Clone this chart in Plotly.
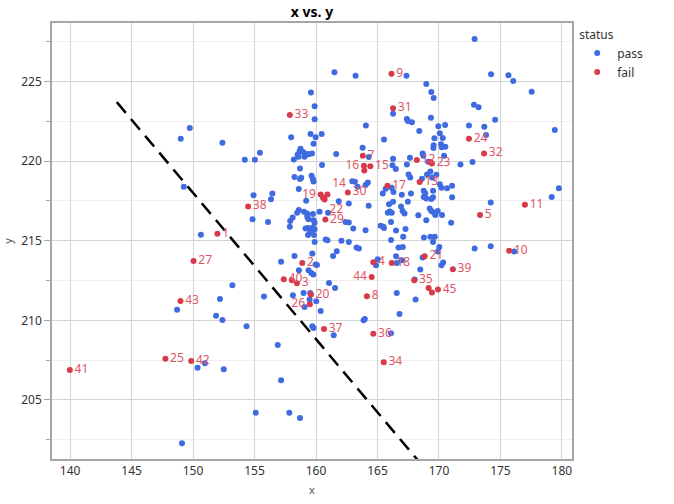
import plotly.graph_objects as go

# status = pass
pass_x = [149.0, 149.74, 152.39, 149.25, 154.21, 155.03, 155.44, 154.92, 156.45, 156.34,
          154.84, 156.1, 150.64, 157.98, 158.2, 158.5, 158.66, 158.7, 158.25, 158.7,
          158.6, 158.6, 158.47, 158.1, 157.9, 157.87, 167.36, 161.5, 163.22, 168.97,
          166.27, 167.39, 167.8, 168.4, 159.59, 159.89, 159.89, 159.56, 159.97, 159.8,
          160.46, 164.06, 165.53, 163.79, 161.64, 164.3, 166.27, 167.64, 167.39, 160.49,
          158.74, 158.96, 159.07, 159.4, 159.67, 169.38, 169.35, 169.55, 172.9, 174.24,
          175.65, 176.04, 177.54, 169.57, 172.85, 173.22, 174.57, 169.95, 170.5, 172.44,
          173.69, 173.83, 179.42, 170.07, 169.63, 170.31, 169.57, 170.17, 170.52, 170.42,
          171.75, 172.73, 168.67, 169.13, 167.47, 170.23, 168.73, 166.22, 166.49, 169.3,
          167.53, 167.66, 169.03, 169.79, 169.44, 168.62, 170.07, 170.2, 170.66, 171.07,
          169.52, 168.76, 168.89, 166.16, 165.67, 165.43, 166.3, 166.98, 167.72, 168.76,
          168.97, 169.38, 169.52, 171.07, 167.47, 166.27, 165.94, 166.92, 169.25, 169.38,
          169.57, 169.9, 169.7, 174.21, 166.0, 166.16, 167.04, 167.2, 168.32, 170.25,
          168.97, 166.1, 170.99, 165.48, 166.51, 167.28, 167.09, 166.1, 168.78, 169.3,
          169.66, 169.52, 166.71, 167.06, 172.9, 174.21, 170.03, 166.51, 166.98, 166.57,
          168.67, 169.9, 170.2, 170.34, 168.48, 168.02, 176.12, 166.57, 168.1, 166.79,
          166.1, 159.29, 158.58, 158.8, 159.64, 159.75, 159.8, 159.2, 159.02, 159.27,
          159.29, 159.39, 159.75, 159.8, 159.89, 160.29, 160.98, 161.85, 162.67, 162.95,
          163.16, 163.38, 164.03, 164.22, 162.4, 162.67, 164.28, 163.03, 164.03, 165.26,
          165.53, 165.84, 159.15, 159.35, 159.75, 159.53, 159.89, 159.35, 159.84, 160.79,
          159.89, 162.07, 162.67, 163.3, 163.49, 160.93, 158.25, 159.7, 161.69, 161.39,
          157.16, 158.61, 159.39, 159.62, 159.78, 159.97, 160.08, 165.02, 164.88, 161.06,
          161.55, 158.99, 158.12, 159.53, 159.48, 160.02, 159.07, 160.38, 163.97, 163.87,
          159.7, 159.8, 161.44, 153.2, 155.77, 152.19, 148.7, 151.87, 152.39, 154.35,
          156.89, 150.97, 150.37, 152.5, 157.16, 155.1, 149.1, 157.83, 158.7, 179.75,
          179.17]
pass_y = [221.4, 222.08, 221.15, 218.38, 220.08, 220.08, 220.52, 217.86, 217.97, 217.6,
          216.35, 216.18, 215.37, 221.49, 220.1, 220.4, 220.6, 219.54, 219.0, 218.87,
          218.24, 216.92, 216.75, 216.45, 216.23, 215.87, 225.36, 225.58, 225.36, 224.84,
          222.97, 222.64, 222.43, 221.89, 224.3, 223.44, 222.62, 221.7, 221.49, 221.09,
          221.7, 222.24, 221.36, 220.84, 220.44, 220.25, 220.15, 220.21, 219.79, 219.75,
          220.77, 220.57, 220.27, 220.42, 220.48, 224.34, 222.72, 220.82, 227.67, 225.45,
          225.39, 225.03, 224.36, 223.96, 223.54, 223.38, 222.6, 222.18, 222.26, 222.24,
          222.16, 221.64, 221.95, 221.74, 221.43, 221.45, 220.99, 221.05, 220.9, 220.33,
          219.79, 219.94, 220.48, 219.96, 222.52, 220.86, 220.33, 219.73, 219.5, 219.35,
          219.16, 218.97, 219.16, 219.14, 218.97, 218.89, 218.55, 218.32, 218.3, 218.45,
          218.13, 218.13, 217.97, 218.32, 218.26, 217.97, 218.05, 217.88, 217.97, 217.75,
          217.65, 217.61, 217.72, 217.72, 217.44, 217.44, 217.28, 217.15, 217.02, 216.87,
          216.77, 216.87, 216.62, 217.4, 216.84, 216.75, 216.87, 216.7, 216.6, 216.62,
          216.29, 216.18, 216.12, 215.87, 215.64, 215.74, 215.24, 215.05, 215.2, 215.24,
          215.24, 214.92, 214.57, 214.61, 214.51, 214.65, 214.61, 214.03, 213.77, 213.6,
          213.94, 214.32, 213.46, 213.63, 213.19, 212.56, 214.32, 211.72, 211.3, 210.4,
          209.18, 220.44, 220.27, 218.95, 219.08, 218.87, 218.72, 217.5, 216.81, 216.71,
          216.5, 216.35, 216.67, 216.29, 216.12, 216.81, 216.75, 217.48, 217.34, 218.74,
          218.7, 218.38, 218.49, 218.66, 216.18, 216.14, 217.19, 215.77, 215.66, 215.93,
          215.8, 216.75, 215.77, 215.8, 215.83, 215.55, 215.72, 215.35, 215.35, 215.08,
          214.92, 214.99, 214.92, 214.57, 214.51, 215.03, 214.04, 214.19, 214.34, 214.04,
          213.67, 213.14, 213.14, 212.97, 212.87, 213.5, 213.48, 213.84, 213.46, 212.34,
          212.03, 211.72, 211.57, 211.72, 211.3, 211.19, 210.84, 210.59, 210.08, 210.0,
          209.62, 209.52, 209.06, 212.2, 211.49, 211.34, 210.67, 210.29, 210.02, 209.62,
          208.45, 207.31, 207.02, 206.92, 206.23, 204.2, 202.28, 204.2, 203.86, 218.3,
          217.74]

# status = fail (row labels; the last few rows show no label in the chart)
fail_labels = ["1", "2", "3", "4", "5", "", "7", "8", "9", "10",
               "11", "12", "13", "14", "15", "16", "17", "18", "19", "20",
               "21", "22", "23", "24", "25", "26", "27", "", "29", "30",
               "31", "32", "33", "34", "35", "36", "37", "38", "39", "40",
               "41", "42", "43", "44", "45", "", "", "", ""]
fail_x = [151.98, 158.88, 158.45, 164.66, 173.34, 169.16, 163.81, 164.14, 166.14, 175.71,
          176.99, 168.2, 168.43, 160.93, 164.42, 163.9, 165.81, 166.16, 160.38, 159.59,
          168.84, 160.7, 169.43, 172.44, 147.75, 159.5, 150.04, 169.43, 160.76, 162.59,
          166.27, 173.67, 157.87, 165.51, 167.99, 164.66, 160.65, 154.48, 171.13, 157.38,
          139.98, 149.85, 148.98, 164.53, 169.92, 163.93, 160.57, 169.3, 158.04]
fail_y = [215.43, 213.6, 212.33, 213.65, 216.62, 212.03, 220.33, 211.51, 225.49, 214.36,
          217.25, 220.06, 218.68, 217.9, 219.67, 219.7, 218.45, 213.6, 217.9, 211.62,
          214.03, 217.59, 219.85, 221.4, 207.59, 211.01, 213.73, 211.74, 216.33, 218.03,
          223.31, 220.48, 222.89, 207.36, 212.52, 209.16, 209.45, 217.15, 213.21, 212.58,
          206.88, 207.44, 211.21, 212.72, 211.93, 219.41, 217.69, 219.94, 212.52]

# dashed reference line
line_x = [143.8, 169.6]
line_y = [223.7, 200.0]

blue = "#3F6BE0"
red = "#D83A4B"

label_side = {"14": "top right", "16": "middle left", "19": "middle left",
              "22": "bottom right", "26": "middle left", "44": "middle left"}
text_pos = [label_side.get(l, "middle right") for l in fail_labels]

fig = go.Figure()
fig.add_trace(go.Scatter(
    x=line_x, y=line_y, mode="lines",
    line=dict(color="black", width=2.5, dash="14px,8px"),
    showlegend=False, hoverinfo="skip"))
fig.add_trace(go.Scatter(
    x=pass_x, y=pass_y, mode="markers", name="pass",
    marker=dict(color=blue, size=6)))
fig.add_trace(go.Scatter(
    x=fail_x, y=fail_y, mode="markers+text", name="fail",
    text=fail_labels, textposition=text_pos,
    textfont=dict(color="#DE5566", size=12),
    marker=dict(color=red, size=6)))

fig.update_layout(
    width=674, height=504,
    font=dict(family="Noto Sans", color="#333333"),
    paper_bgcolor="white", plot_bgcolor="white",
    title=dict(text="<b>x vs. y</b>", x=0.5, xref="paper", xanchor="center",
               y=0.976, yanchor="middle", font=dict(size=14, color="black")),
    margin=dict(l=52, r=102, t=23, b=45, autoexpand=False),
    legend=dict(title=dict(text="status", font=dict(size=12)),
                x=1.01, xanchor="left", y=1.0, yanchor="top",
                font=dict(size=12), itemsizing="trace",
                tracegroupgap=0),
)
fig.update_xaxes(
    range=[138.53, 180.82], dtick=5, tick0=140, automargin=False,
    showgrid=True, gridcolor="#d4d4d4", gridwidth=1,
    showline=True, linecolor="#a6a6a6", linewidth=1.5, mirror=True,
    zeroline=False, ticks="", tickfont=dict(size=12, color="#333333"),
    title=dict(text="x", font=dict(size=11, color="#555555"), standoff=8))
fig.update_yaxes(
    range=[201.29, 228.67], dtick=5, tick0=205, automargin=False,
    showgrid=True, gridcolor="#d4d4d4", gridwidth=1,
    minor=dict(dtick=2.5, showgrid=True, gridcolor="#eeeeee", ticks="outside",
               ticklen=4, tickcolor="#a6a6a6"),
    showline=True, linecolor="#a6a6a6", linewidth=1.5, mirror=True,
    zeroline=False, ticks="outside", ticklen=6, tickcolor="#a6a6a6",
    tickfont=dict(size=12, color="#333333"),
    title=dict(text="y", font=dict(size=11, color="#555555"), standoff=6))

# drop the page's default body margin so the figure sits at the window corner
fig.write_html("out.html", config={"displayModeBar": False},
               post_script="document.body.style.margin = '0px';")
